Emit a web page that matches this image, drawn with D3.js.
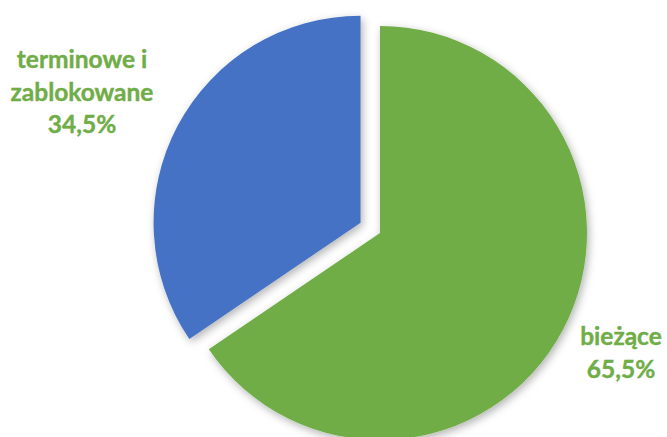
<!DOCTYPE html>
<html><head><meta charset="utf-8">
<script src="https://cdn.jsdelivr.net/npm/d3@7"></script>
<style>body{margin:0;background:#fff}svg{display:block}</style>
</head><body>
<svg id="c" width="667" height="437"></svg>
<script>
const categories = ["bieżące", "terminowe i zablokowane"];
const values = [65.5, 34.5];
const labelLines = [["bieżące", "65,5%"], ["terminowe i", "zablokowane", "34,5%"]];
const colors = ["#70AD47", "#4472C4"];

const svg = d3.select("#c");
const defs = svg.append("defs");
const f = defs.append("filter").attr("id","sh").attr("x","-20%").attr("y","-20%").attr("width","140%").attr("height","140%");
f.append("feDropShadow").attr("dx",2).attr("dy",3).attr("stdDeviation",4).attr("flood-color","#000").attr("flood-opacity",0.3);

const cx = 380, cy = 233, r = 207;
const pie = d3.pie().sort(null).value(d => d)(values);
const arc = d3.arc().innerRadius(0).outerRadius(r);
const explode = [0, 22];
const g = svg.append("g").attr("transform", `translate(${cx},${cy})`);
g.selectAll("path").data(pie).join("path")
  .attr("d", arc)
  .attr("fill", (d,i) => colors[i])
  .attr("filter","url(#sh)")
  .attr("transform", (d,i) => {
    const a = (d.startAngle + d.endAngle)/2;
    return `translate(${Math.sin(a)*explode[i]},${-Math.cos(a)*explode[i]})`;
  });

const labelPos = [[621, 345], [82, 68]];
labelLines.forEach((lines, i) => {
  const t = svg.append("text").attr("text-anchor","middle")
    .attr("font-family","Lato, 'Open Sans', sans-serif").attr("font-weight","bold")
    .attr("font-size",24.5).attr("fill","#70AD47")
    .attr("stroke","#70AD47").attr("stroke-width",0.4);
  lines.forEach((l, j) => t.append("tspan").attr("x", labelPos[i][0]).attr("y", labelPos[i][1] + j*32.5).text(l));
});
</script>
</body></html>
